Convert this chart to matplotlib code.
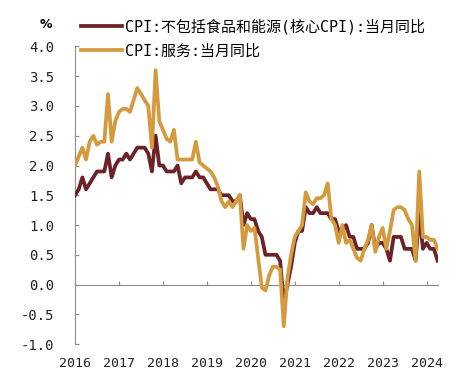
import matplotlib
matplotlib.use("Agg")
import matplotlib.pyplot as plt
from matplotlib.ticker import FixedLocator, FormatStrFormatter
import numpy as np

# Monthly data, Apr 2016 -> Jul 2024
core_cpi = [
    1.5, 1.6, 1.8, 1.6, 1.7, 1.8, 1.9, 1.9, 1.9,                  # 2016 Apr-Dec
    2.2, 1.8, 2.0, 2.1, 2.1, 2.2, 2.1, 2.2, 2.3, 2.3, 2.3, 2.2,    # 2017
    1.9, 2.5, 2.0, 2.0, 1.9, 1.9, 1.9, 2.0, 1.7, 1.8, 1.8, 1.8,    # 2018
    1.9, 1.8, 1.8, 1.7, 1.6, 1.6, 1.6, 1.5, 1.5, 1.5, 1.4, 1.4,    # 2019
    1.5, 1.0, 1.2, 1.1, 1.1, 0.9, 0.8, 0.5, 0.5, 0.5, 0.5, 0.4,    # 2020
    -0.3, 0.0, 0.3, 0.7, 0.9, 0.9, 1.3, 1.2, 1.2, 1.3, 1.2, 1.2,   # 2021
    1.2, 1.1, 1.1, 0.9, 0.9, 1.0, 0.8, 0.8, 0.6, 0.6, 0.6, 0.7,    # 2022
    1.0, 0.6, 0.7, 0.7, 0.6, 0.4, 0.8, 0.8, 0.8, 0.6, 0.6, 0.6,    # 2023
    0.4, 1.2, 0.6, 0.7, 0.6, 0.6, 0.4,                             # 2024 Jan-Jul
]
services_cpi = [
    2.0, 2.15, 2.3, 2.1, 2.4, 2.5, 2.35, 2.4, 2.4,                        # 2016 Apr-Dec
    3.2, 2.4, 2.75, 2.9, 2.95, 2.95, 2.9, 3.1, 3.3, 3.2, 3.1, 3.0,         # 2017
    2.3, 3.6, 2.75, 2.6, 2.45, 2.4, 2.6, 2.1, 2.1, 2.1, 2.1, 2.1,         # 2018
    2.4, 2.05, 2.0, 1.95, 1.9, 1.8, 1.65, 1.4, 1.3, 1.4, 1.3, 1.4,        # 2019
    1.5, 0.6, 1.0, 0.9, 0.95, 0.45, -0.05, -0.1, 0.15, 0.3, 0.3, 0.25,    # 2020
    -0.7, 0.1, 0.5, 0.8, 0.9, 1.0, 1.55, 1.4, 1.35, 1.45, 1.45, 1.5,      # 2021
    1.7, 1.1, 1.0, 0.7, 1.0, 0.7, 0.75, 0.6, 0.45, 0.4, 0.6, 0.75,        # 2022
    1.0, 0.55, 0.8, 0.95, 0.6, 0.9, 1.25, 1.3, 1.3, 1.25, 1.1, 1.0,       # 2023
    0.4, 1.9, 0.8, 0.8, 0.75, 0.75, 0.6,                                  # 2024 Jan-Jul
]
year_labels = ["2016", "2017", "2018", "2019", "2020", "2021", "2022", "2023", "2024"]
y_ticks = [-1.0, -0.5, 0.0, 0.5, 1.0, 1.5, 2.0, 2.5, 3.0, 3.5, 4.0]
series_names = ["CPI:不包括食品和能源(核心CPI):当月同比", "CPI:服务:当月同比"]

BROWN = "#6b2328"
GOLD = "#d49a3e"
GRAY = "#8c8c8c"

fig = plt.figure(figsize=(4.69, 3.84), dpi=100)
ax = fig.add_axes([0.16, 0.104, 0.773, 0.775])

x = np.arange(len(core_cpi))
l1, = ax.plot(x, core_cpi, color=BROWN, lw=2.7, solid_joinstyle="round", zorder=3)
l2, = ax.plot(x, services_cpi, color=GOLD, lw=2.7, solid_joinstyle="round", zorder=4)

ax.set_xlim(0, len(core_cpi) - 1)
ax.set_ylim(-1.0, 4.0)

for s in ["top", "right"]:
    ax.spines[s].set_visible(False)
ax.spines["left"].set_color(GRAY)
ax.spines["left"].set_linewidth(0.8)
ax.spines["bottom"].set_position(("data", 0))
ax.spines["bottom"].set_color(GRAY)
ax.spines["bottom"].set_linewidth(0.8)

ax.xaxis.set_major_locator(FixedLocator(np.arange(len(year_labels)) * 12))
ax.set_xticklabels(year_labels)
ax.yaxis.set_major_locator(FixedLocator(y_ticks))
ax.yaxis.set_major_formatter(FormatStrFormatter("%.1f"))

ax.tick_params(axis="x", direction="in", length=3, width=0.8, color=GRAY, pad=52,
               labelsize=9.5, labelcolor="#222222")
ax.tick_params(axis="y", direction="in", length=3, width=0.8, color=GRAY, pad=15,
               labelsize=10, labelcolor="#222222")
for lab in ax.get_xticklabels() + ax.get_yticklabels():
    lab.set_fontfamily("DejaVu Sans Mono")

fig.text(46 / 469, 1 - 24 / 384, "%", fontsize=9, fontweight="bold",
         ha="center", va="center", family="DejaVu Sans")

fig.legend([l1, l2], series_names, loc="upper left",
           bbox_to_anchor=(81 / 469, 1 - 19 / 384), frameon=False,
           prop={"family": ["DejaVu Sans Mono", "Noto Sans CJK SC"], "size": 10.8},
           handlelength=2.7, handletextpad=0.25, labelspacing=0.6,
           borderpad=0, borderaxespad=0)

fig.savefig("out.png", dpi=100)
